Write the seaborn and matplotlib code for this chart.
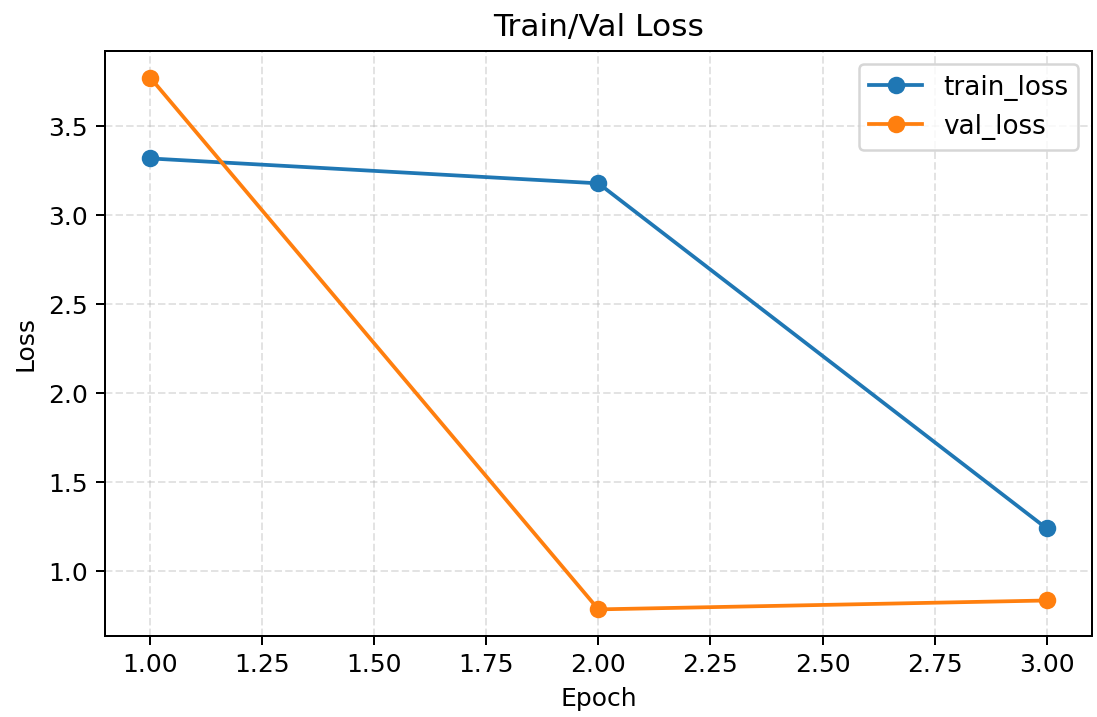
import pandas as pd
import seaborn as sns
import matplotlib.pyplot as plt

epochs = [1, 2, 3]
train_loss = [3.32, 3.18, 1.24]
val_loss = [3.775, 0.785, 0.835]

df = pd.DataFrame({'epoch': epochs * 2,
                   'loss': train_loss + val_loss,
                   'series': ['train_loss'] * 3 + ['val_loss'] * 3})

plt.rcParams['font.family'] = ['DejaVu Sans']

fig, ax = plt.subplots(figsize=(1097 / 180, 717 / 180), dpi=180)
sns.lineplot(data=df, x='epoch', y='loss', hue='series',
             palette=['#1f77b4', '#ff7f0e'], marker='o', markersize=7,
             markeredgewidth=0, linewidth=1.5, ax=ax)
ax.grid(True, linestyle='--', alpha=0.35)
ax.set_title('Train/Val Loss', fontsize=12.5)
ax.set_xlabel('Epoch')
ax.set_ylabel('Loss')
ax.legend(title=None, fontsize=10.5)
fig.subplots_adjust(left=0.096, right=0.995, top=0.929, bottom=0.113)
fig.savefig('out.png', dpi=180)
